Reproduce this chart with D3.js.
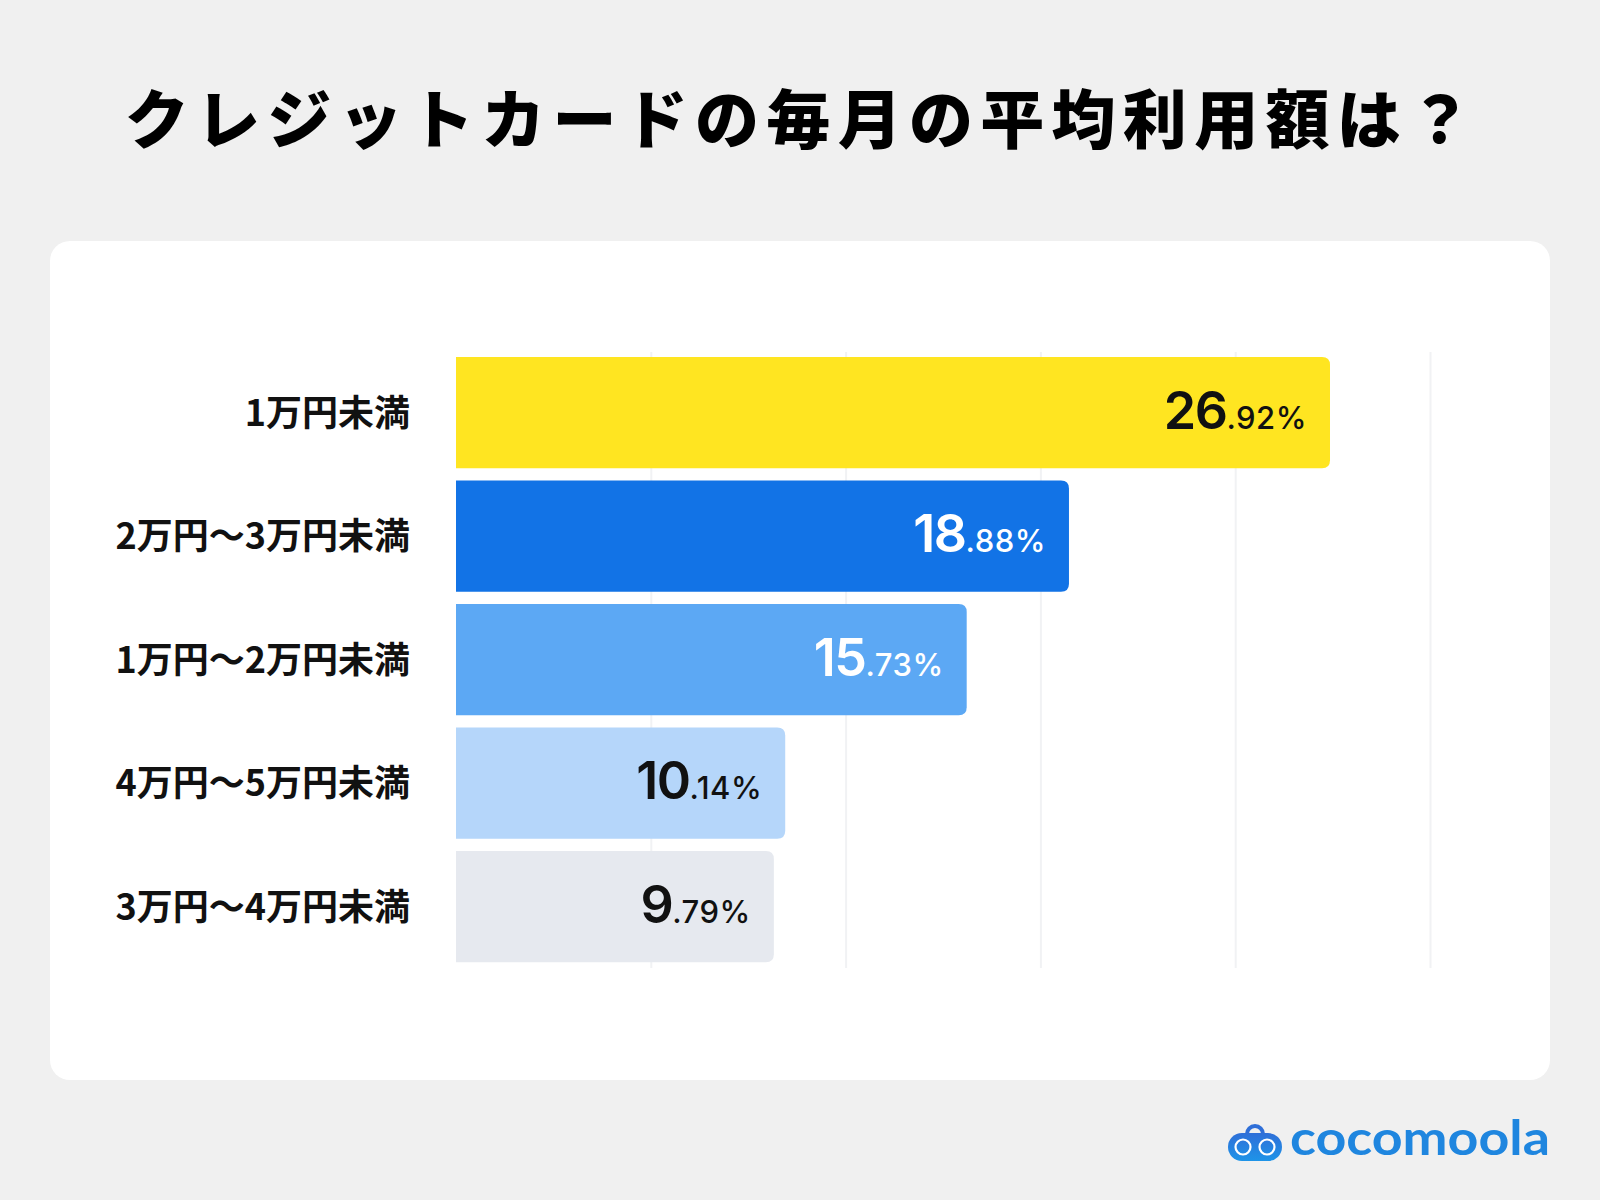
<!DOCTYPE html>
<html>
<head>
<meta charset="utf-8">
<script src="https://cdn.jsdelivr.net/npm/d3@7"></script>
<style>
  body { margin: 0; background: #f0f0f0; }
  svg { display: block; }
</style>
</head>
<body>
<div id="chart"></div>
<script>
// Data
const categories = ["1万円未満", "2万円〜3万円未満", "1万円〜2万円未満", "4万円〜5万円未満", "3万円〜4万円未満"];
const values = [26.92, 18.88, 15.73, 10.14, 9.79];
const barColors = ["#FFE521", "#1273E6", "#5CA8F4", "#B5D6FA", "#E6E9EF"];
const labelColors = ["#111111", "#ffffff", "#ffffff", "#111111", "#111111"];
const gridTicks = [6, 12, 18, 24, 30];

const WIDTH = 1600, HEIGHT = 1200;

const svg = d3.select("#chart")
  .append("svg")
    .attr("width", WIDTH)
    .attr("height", HEIGHT);

// Page background + white card
svg.append("rect").attr("width", WIDTH).attr("height", HEIGHT).attr("fill", "#f0f0f0");
svg.append("rect")
  .attr("x", 50).attr("y", 241)
  .attr("width", 1500).attr("height", 839)
  .attr("rx", 20)
  .attr("fill", "#ffffff");

// Title
svg.append("text")
  .attr("x", 802)
  .attr("y", 143)
  .attr("text-anchor", "middle")
  .attr("font-family", "'Noto Sans CJK JP', sans-serif")
  .attr("font-weight", 900)
  .attr("font-size", 64)
  .attr("letter-spacing", 7.3)
  .attr("fill", "#000")
  .text("クレジットカードの毎月の平均利用額は？");

// Scales
const x = d3.scaleLinear().domain([0, 30]).range([456, 1430]);
const y = d3.scaleBand()
  .domain(categories)
  .range([357, 357 + 123.5 * 4.9])
  .paddingInner(0.1)
  .paddingOuter(0);

// Grid lines
const gridCall = d3.axisBottom(x).tickValues(gridTicks).tickSize(-616).tickFormat("");
const grid = svg.append("g")
  .attr("transform", "translate(0,968)")
  .call(gridCall);
grid.select(".domain").remove();
grid.selectAll(".tick line").attr("stroke", "#f1f2f4").attr("stroke-width", 2);

// Bars, flat on the left, rounded on the right
const R = 8;
function barPath(d, i) {
  const x0 = x(0), x1 = x(d), y0 = y(categories[i]), h = y.bandwidth();
  return `M${x0},${y0}H${x1 - R}Q${x1},${y0} ${x1},${y0 + R}V${y0 + h - R}Q${x1},${y0 + h} ${x1 - R},${y0 + h}H${x0}Z`;
}

svg.selectAll("path.bar")
  .data(values)
  .enter()
  .append("path")
    .attr("class", "bar")
    .attr("d", barPath)
    .attr("fill", (d, i) => barColors[i]);

// Category labels
svg.selectAll("text.cat")
  .data(categories)
  .enter()
  .append("text")
    .attr("class", "cat")
    .attr("x", 410)
    .attr("y", (d) => y(d) + y.bandwidth() / 2)
    .attr("dy", "0.36em")
    .attr("text-anchor", "end")
    .attr("font-family", "'Noto Sans CJK JP', sans-serif")
    .attr("font-weight", 700)
    .attr("font-size", 36)
    .attr("fill", "#111")
    .text((d) => d);

// Value labels: big integer part, small decimals
const valueLabels = svg.selectAll("text.val")
  .data(values)
  .enter()
  .append("text")
    .attr("class", "val")
    .attr("x", (d) => x(d) - 23)
    .attr("y", (d, i) => y(categories[i]) + y.bandwidth() / 2 + 16)
    .attr("text-anchor", "end")
    .attr("font-family", "Inter, sans-serif")
    .attr("fill", (d, i) => labelColors[i]);

valueLabels.append("tspan")
  .attr("font-size", 52)
  .attr("font-weight", 600)
  .attr("letter-spacing", -1.5)
  .text((d) => d.toFixed(2).split(".")[0]);

valueLabels.append("tspan")
  .attr("font-size", 31)
  .attr("font-weight", 500)
  .attr("letter-spacing", 0.5)
  .text((d) => "." + d.toFixed(2).split(".")[1] + "%");

// Logo
const logo = svg.append("g");
const grad = svg.append("defs").append("linearGradient")
  .attr("id", "logoGrad").attr("x1", 0).attr("y1", 0).attr("x2", 0).attr("y2", 1);
grad.append("stop").attr("offset", "0%").attr("stop-color", "#2F6FD8");
grad.append("stop").attr("offset", "100%").attr("stop-color", "#1E94E8");

logo.append("path")
  .attr("d", "M1247,1134 A8,8 0 0 1 1263,1134")
  .attr("fill", "none")
  .attr("stroke", "#2F6FD8")
  .attr("stroke-width", 4)
  .attr("stroke-linecap", "round");
logo.append("rect")
  .attr("x", 1228).attr("y", 1133)
  .attr("width", 54).attr("height", 28)
  .attr("rx", 14)
  .attr("fill", "url(#logoGrad)");
[1243, 1267].forEach((cx) => {
  logo.append("circle")
    .attr("cx", cx).attr("cy", 1147).attr("r", 7.5)
    .attr("fill", "none")
    .attr("stroke", "#ffffff")
    .attr("stroke-width", 2.2);
});
logo.append("text")
  .attr("x", 1290)
  .attr("y", 1155)
  .attr("font-family", "Lato, sans-serif")
  .attr("font-weight", 700)
  .attr("font-size", 47)
  .attr("textLength", 260)
  .attr("lengthAdjust", "spacingAndGlyphs")
  .attr("fill", "#1F86DF")
  .text("cocomoola");
</script>
</body>
</html>
